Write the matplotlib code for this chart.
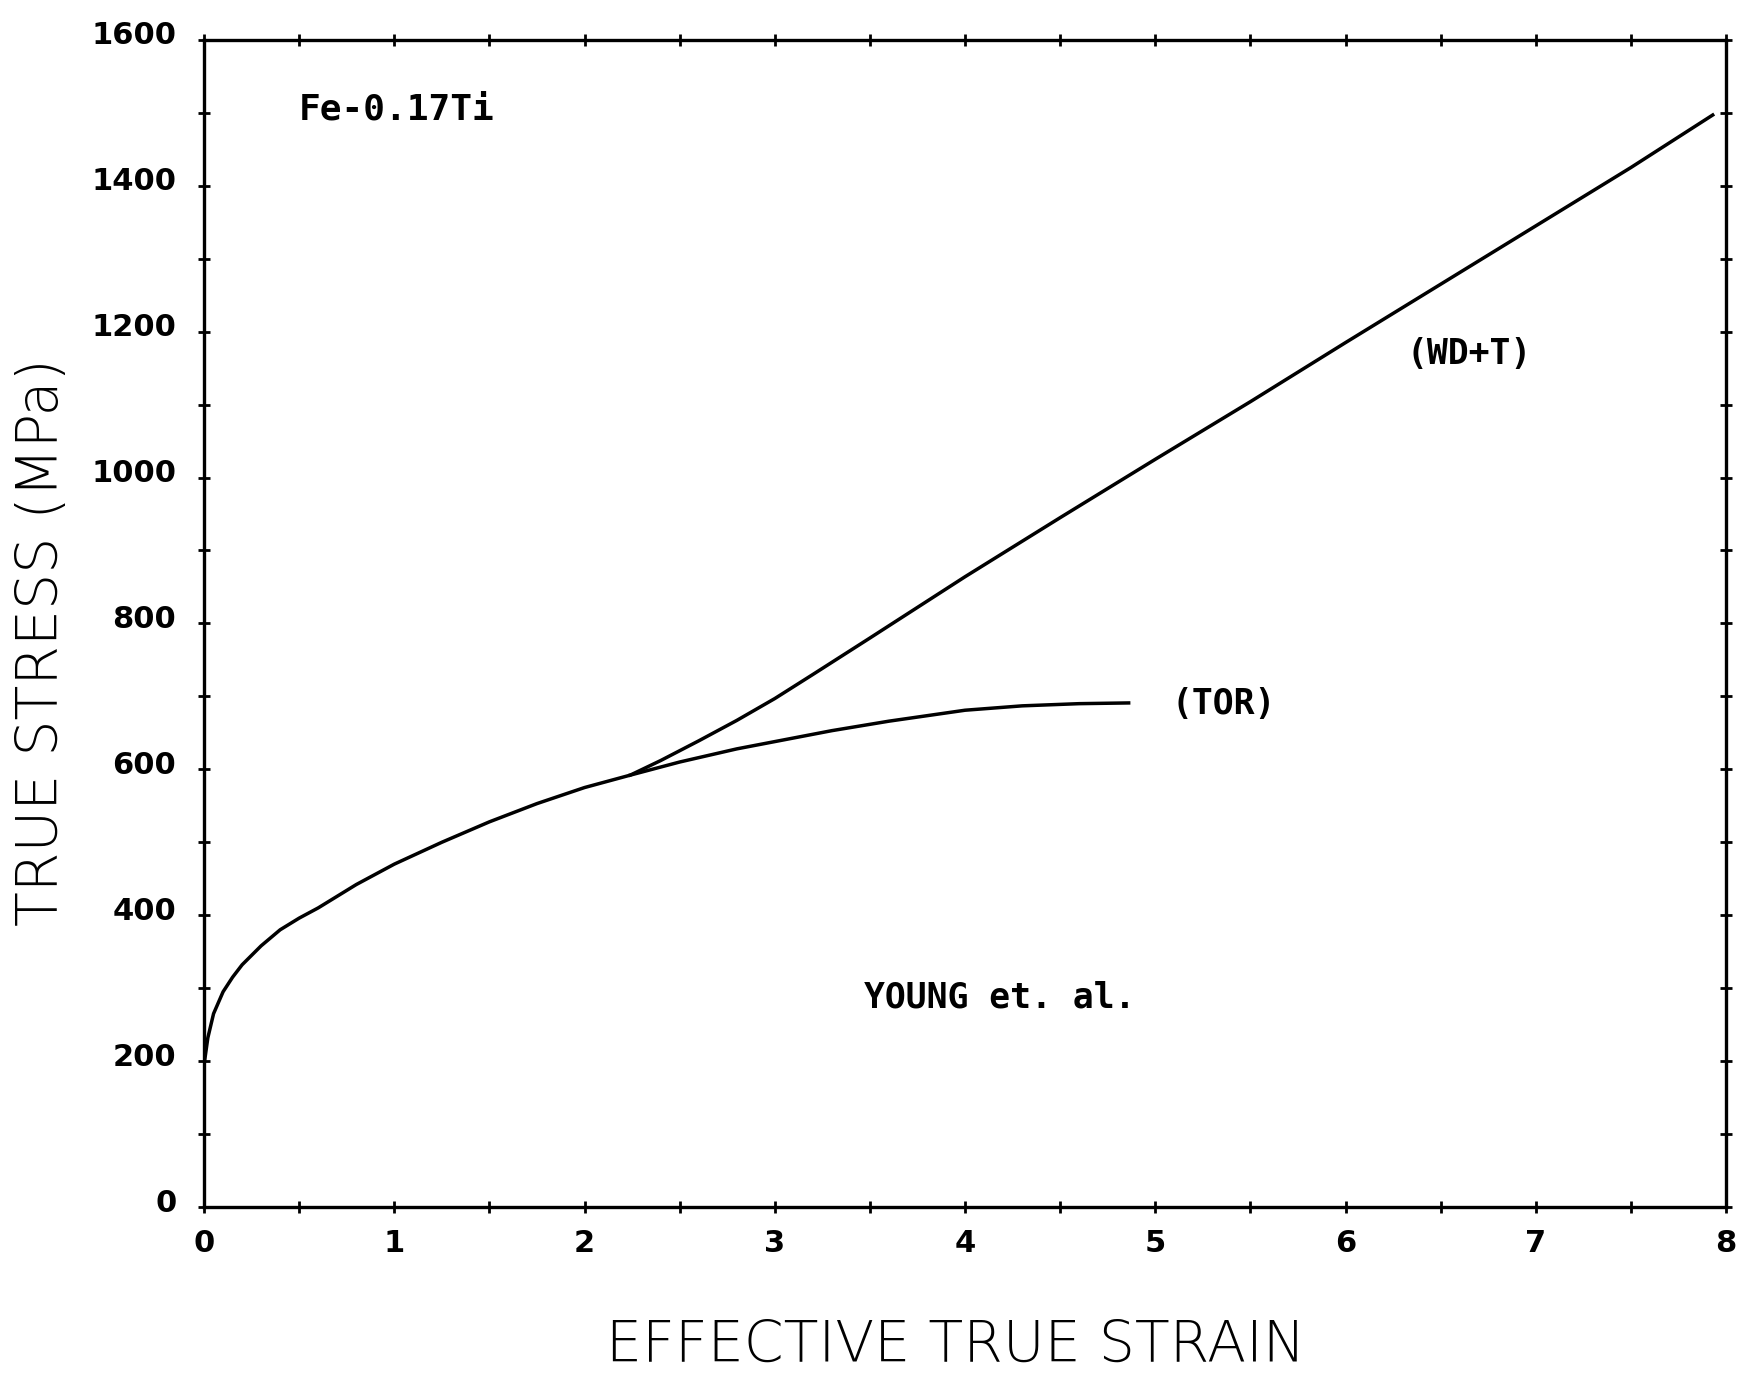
import matplotlib
matplotlib.use("Agg")
import matplotlib.pyplot as plt
import matplotlib.transforms as mtransforms
from matplotlib.ticker import MultipleLocator

# shared part of both flow curves (before they split)
strain_common = [0, 0.02, 0.05, 0.1, 0.15, 0.2, 0.3, 0.4, 0.5, 0.6, 0.8, 1.0, 1.25,
                 1.5, 1.75, 2.0, 2.24]
stress_common = [195, 232, 265, 295, 315, 332, 358, 380, 396, 410, 442, 470, 500,
                 528, 553, 575, 592]

# (WD+T) branch
strain_wdt = [2.4, 2.6, 2.8, 3.0, 3.2, 3.5, 4.0, 4.5, 5.0, 5.5, 6.0, 6.5, 7.0, 7.5, 7.93]
stress_wdt = [612, 639, 667, 697, 730, 780, 864, 945, 1025, 1104, 1185, 1265, 1345, 1425, 1497]

# (TOR) branch
strain_tor = [2.5, 2.8, 3.0, 3.3, 3.6, 4.0, 4.3, 4.6, 4.86]
stress_tor = [610, 628, 638, 653, 666, 681, 687, 690, 691]

x_ticks = [0, 1, 2, 3, 4, 5, 6, 7, 8]
y_ticks = [0, 200, 400, 600, 800, 1000, 1200, 1400, 1600]

fig = plt.figure(figsize=(17.47, 13.75), dpi=100)
ax = fig.add_axes([0.1168, 0.1222, 0.8712, 0.8488])

ax.plot(strain_common + strain_wdt, stress_common + stress_wdt, color="black", lw=2.5)
ax.plot(strain_common[-1:] + strain_tor, stress_common[-1:] + stress_tor, color="black", lw=2.5)

ax.set_xlim(0, 8)
ax.set_ylim(0, 1600)
ax.set_xticks(x_ticks)
ax.set_yticks(y_ticks)
ax.xaxis.set_minor_locator(MultipleLocator(0.5))
ax.yaxis.set_minor_locator(MultipleLocator(100))
ax.tick_params(which="both", direction="inout", length=8, width=2,
               top=True, right=True, labelsize=22)
ax.tick_params(axis="x", pad=12)
ax.tick_params(axis="y", pad=16)
for s in ax.spines.values():
    s.set_linewidth(2.4)

for lbl in ax.get_xticklabels() + ax.get_yticklabels():
    lbl.set_fontfamily("DejaVu Sans")
    lbl.set_fontweight("bold")
# plotter labels on the y axis sit a bit above their ticks
shift = mtransforms.ScaledTranslation(0, 5 / 72, fig.dpi_scale_trans)
for lbl in ax.get_yticklabels():
    lbl.set_transform(lbl.get_transform() + shift)

fig.text(0.547, 0.021, "EFFECTIVE TRUE STRAIN", fontsize=41, ha="center", va="center",
         fontweight="light")
fig.text(0.024, 0.533, "TRUE STRESS (MPa)", fontsize=41, ha="center", va="center",
         rotation=90, fontweight="light")

ax.text(0.5, 1505, "Fe-0.17Ti", fontsize=26, fontfamily="DejaVu Sans Mono",
        fontweight="bold", va="center", ha="left")
ax.text(6.65, 1169, "(WD+T)", fontsize=25, fontfamily="DejaVu Sans Mono",
        fontweight="bold", va="center", ha="center")
ax.text(5.36, 689, "(TOR)", fontsize=25, fontfamily="DejaVu Sans Mono",
        fontweight="bold", va="center", ha="center")
ax.text(4.18, 287, "YOUNG et. al.", fontsize=25, fontfamily="DejaVu Sans Mono",
        fontweight="bold", va="center", ha="center")

fig.savefig("out.png", dpi=100)
